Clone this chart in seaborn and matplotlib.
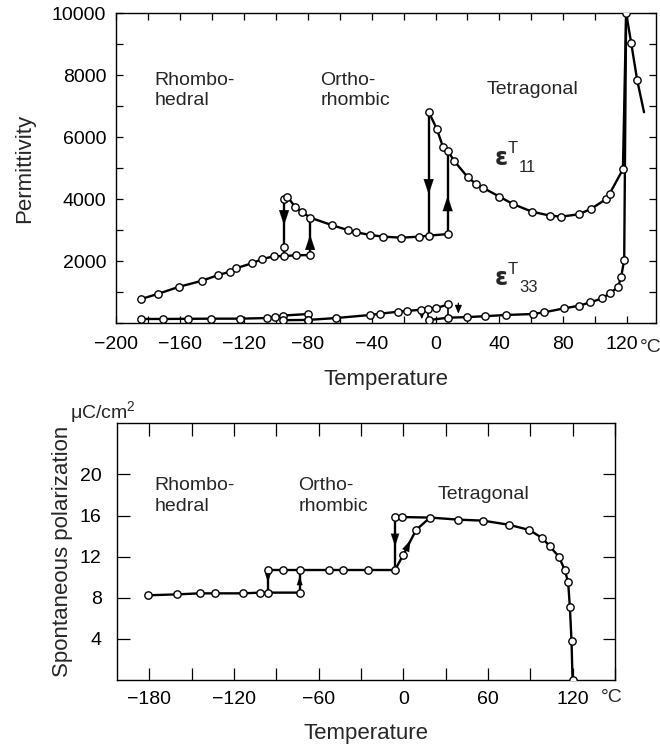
import matplotlib
matplotlib.use("Agg")
import matplotlib.pyplot as plt
from matplotlib.ticker import MultipleLocator
from matplotlib.transforms import ScaledTranslation
import seaborn as sns
import pandas as pd

# ---------------- data: permittivity (top panel) ----------------
e11_rh_T = [-184.3, -174, -160.4, -146, -136, -128.6, -125, -115, -108.4, -101.3, -94.8, -87.5, -78.5]
e11_rh_P = [774, 935, 1170, 1365, 1548, 1655, 1763, 1925, 2064, 2150, 2161, 2183, 2193]
e11_or_T = [-94.8, -92.7, -88, -83.3, -78.5, -64.5, -55, -50, -41, -32.6, -21.5, -10.3, -4.3, 7.6]
e11_or_P = [3990, 4075, 3753, 3570, 3400, 3150, 3000, 2930, 2840, 2785, 2752, 2785, 2816, 2870]
e11_te_T = [-4.3, 0.8, 4.6, 7.6, 11.7, 20.2, 25.4, 29.6, 40, 48.4, 60.3, 71.8, 78.6, 89.5, 97.2,
            106.6, 108.9, 117.3, 119.3]
e11_te_P = [6817, 6258, 5688, 5560, 5226, 4700, 4484, 4365, 4075, 3839, 3592, 3462, 3430, 3506, 3677,
            3990, 4161, 4958, 10000]
e11_cu_T = [119.3, 122.5, 126.2]
e11_cu_P = [10000, 9023, 7839]
e11_tail_T = [126.2, 130.5]
e11_tail_P = [7839, 6800]
e11_extra_T = [-94.8]
e11_extra_P = [2440]
# hysteresis jumps: x, start, end, arrow head position
e11_jump_T = [-94.8, -78.5, -4.3, 7.6]
e11_jump_from = [3990, 2193, 6817, 2870]
e11_jump_to = [2161, 3400, 2816, 5560]
e11_jump_head = [3150, 2850, 4150, 4100]

e33_rh_T = [-184.3, -170.4, -155.1, -140.5, -122.4, -105.6, -100.4, -95.6, -79.6]
e33_rh_P = [130, 130, 135, 140, 140, 160, 200, 240, 290]
e33_rl_T = [-95.6, -79.6]
e33_rl_P = [90, 100]
e33_or_T = [-79.6, -62.2, -41, -34.7, -23.2, -18, -9, -4.4, 0.4, 8]
e33_or_P = [100, 160, 258, 300, 365, 387, 430, 460, 480, 600]
e33_te_T = [-3.9, 8, 20, 31, 44, 61, 68, 80.5, 90, 96.8, 104.5, 108.9, 114.2, 116.2, 118.1]
e33_te_P = [97, 172, 190, 220, 258, 290, 344, 473, 558, 667, 796, 958, 1150, 1494, 2032]
e33_rise_T = [118.1, 119.3]
e33_rise_P = [2032, 10000]
e33_jump_T = [-4.4, 8]
e33_jump_from = [460, 600]
e33_jump_to = [97, 172]
e33_small_arrow_T = [-8.6, 14.3]
e33_small_arrow_from = [430, 640]
e33_small_arrow_to = [120, 300]

# ---------------- data: spontaneous polarization (bottom panel) ----------------
ps_rh_T = [-181.2, -160.4, -144.4, -133.3, -113.7, -101.4, -96, -73.5]
ps_rh_P = [8.24, 8.33, 8.43, 8.43, 8.43, 8.5, 8.5, 8.5]
ps_or_T = [-96, -85, -73.5, -52.4, -42.9, -24.8, -5.9]
ps_or_P = [10.7, 10.7, 10.7, 10.7, 10.7, 10.7, 10.7]
ps_te_T = [-5.9, -0.7, 18.9, 38.9, 56.6, 74.8, 89.1, 98.6, 103.8, 110.2, 114.4, 116.8, 118, 119.2, 119.9]
ps_te_P = [15.85, 15.85, 15.8, 15.6, 15.5, 15.1, 14.6, 13.8, 13.0, 12.0, 10.7, 9.5, 7.1, 3.75, 0]
ps_heat_T = [-5.9, 0, 9, 18.9]
ps_heat_P = [10.7, 12.2, 14.6, 15.8]
ps_jump_T = [-96, -73.5, -5.9]
ps_jump_from = [10.7, 8.5, 15.85]
ps_jump_to = [8.5, 10.7, 10.7]
ps_jump_head = [9.5, 10.1, 13.0]

top_xticks = [-200, -160, -120, -80, -40, 0, 40, 80, 120]
top_yticks = [2000, 4000, 6000, 8000, 10000]
bot_xticks = [-180, -120, -60, 0, 60, 120]
bot_yticks = [4, 8, 12, 16, 20]

# ---------------- style ----------------
sns.set_style("ticks")
plt.rcParams["font.family"] = ["Liberation Sans", "DejaVu Sans"]
plt.rcParams["mathtext.fontset"] = "custom"
plt.rcParams["mathtext.rm"] = "Liberation Sans"

LW = 1.7
MS = 28

fig = plt.figure(figsize=(6.6, 7.49), dpi=100)
ax1 = fig.add_axes([116 / 660, 1 - 323 / 749, 540 / 660, 310 / 749])
ax2 = fig.add_axes([117 / 660, 1 - 680 / 749, 498 / 660, 257 / 749])


def line(ax, xs, ys, lw=LW):
    df = pd.DataFrame({"x": xs, "y": ys})
    sns.lineplot(data=df, x="x", y="y", ax=ax, sort=False, estimator=None,
                 color="black", lw=lw, legend=False)


def pts(ax, xs, ys):
    df = pd.DataFrame({"x": xs, "y": ys})
    sns.scatterplot(data=df, x="x", y="y", ax=ax, marker="o", s=MS,
                    facecolor="white", edgecolor="black", linewidth=1.0,
                    zorder=5, legend=False)


def head(ax, x, y, up, size, ms=12):
    ax.annotate("", xy=(x, y), xytext=(x, y - size if up else y + size),
                arrowprops=dict(arrowstyle="-|>,head_length=0.9,head_width=0.3",
                                color="black", lw=0.1, mutation_scale=ms,
                                shrinkA=0, shrinkB=0), zorder=6)


# ---------- top panel ----------
for xs, ys in [(e11_rh_T, e11_rh_P), (e11_or_T, e11_or_P), (e11_te_T, e11_te_P),
               (e11_cu_T, e11_cu_P), (e11_tail_T, e11_tail_P),
               (e33_rh_T, e33_rh_P), (e33_rl_T, e33_rl_P), (e33_or_T, e33_or_P),
               (e33_te_T, e33_te_P), (e33_rise_T, e33_rise_P)]:
    line(ax1, xs, ys)
for x, a, b in zip(e11_jump_T, e11_jump_from, e11_jump_to):
    line(ax1, [x, x], [a, b])
for x, a, b in zip(e33_jump_T, e33_jump_from, e33_jump_to):
    line(ax1, [x, x], [a, b], lw=1.2)
for x, a, b, h in zip(e11_jump_T, e11_jump_from, e11_jump_to, e11_jump_head):
    head(ax1, x, h, b > a, 300)
for x, a, b in zip(e33_small_arrow_T, e33_small_arrow_from, e33_small_arrow_to):
    ax1.annotate("", xy=(x, b), xytext=(x, a),
                 arrowprops=dict(arrowstyle="-|>,head_length=0.6,head_width=0.25",
                                 color="black", lw=0.9, mutation_scale=8,
                                 shrinkA=0, shrinkB=0))
for xs, ys in [(e11_rh_T, e11_rh_P), (e11_or_T, e11_or_P), (e11_te_T[:-1], e11_te_P[:-1]),
               (e11_cu_T, e11_cu_P), (e11_extra_T, e11_extra_P),
               (e33_rh_T, e33_rh_P), (e33_rl_T, e33_rl_P), (e33_or_T, e33_or_P),
               (e33_te_T, e33_te_P)]:
    pts(ax1, xs, ys)

ax1.set_xlim(-200, 138)
ax1.set_ylim(0, 10000)
ax1.set_xticks(top_xticks)
ax1.set_xticklabels(["\u2212" + str(-t) if t < 0 else str(t) for t in top_xticks])
ax1.set_yticks(top_yticks)
ax1.set_yticklabels([str(t) for t in top_yticks])
ax1.xaxis.set_minor_locator(MultipleLocator(20))
ax1.yaxis.set_minor_locator(MultipleLocator(1000))
ax1.tick_params(which="both", direction="in", top=True, right=True, length=5, width=0.9,
                labelsize=14, colors="black")
ax1.tick_params(axis="x", which="major", pad=9)
ax1.tick_params(axis="y", which="major", pad=7)
ax1.set_xlabel("Temperature", fontsize=16, labelpad=12)
ax1.set_ylabel("Permittivity", fontsize=16, labelpad=12)
# nudge "120" a bit to the left to make room for the unit
lbl = ax1.get_xticklabels()[-1]
lbl.set_transform(lbl.get_transform() + ScaledTranslation(-5 / 100, 0, fig.dpi_scale_trans))
ax1.text(134.5, -800, "\u00b0C", fontsize=14, ha="center", va="center")
ax1.text(-176, 7500, "Rhombo-\nhedral", fontsize=14, ha="left", va="center", linespacing=1.25)
ax1.text(-72, 7500, "Ortho-\nrhombic", fontsize=14, ha="left", va="center", linespacing=1.25)
ax1.text(32, 7520, "Tetragonal", fontsize=14, ha="left", va="center")
ax1.text(36.5, 5300, r"$\mathbf{\varepsilon}$", fontsize=17, ha="left", va="center")
ax1.annotate("T", xy=(36.5, 5300), xytext=(10, 7), textcoords="offset points",
             fontsize=12, ha="left", va="center")
ax1.annotate("11", xy=(36.5, 5300), xytext=(18, -6), textcoords="offset points",
             fontsize=12, ha="left", va="center")
ax1.text(36.5, 1420, r"$\mathbf{\varepsilon}$", fontsize=17, ha="left", va="center")
ax1.annotate("T", xy=(36.5, 1420), xytext=(10, 7), textcoords="offset points",
             fontsize=12, ha="left", va="center")
ax1.annotate("33", xy=(36.5, 1420), xytext=(18, -6), textcoords="offset points",
             fontsize=12, ha="left", va="center")

# ---------- bottom panel ----------
for xs, ys in [(ps_rh_T, ps_rh_P), (ps_or_T, ps_or_P), (ps_te_T, ps_te_P), (ps_heat_T, ps_heat_P)]:
    line(ax2, xs, ys)
for x, a, b in zip(ps_jump_T, ps_jump_from, ps_jump_to):
    line(ax2, [x, x], [a, b])
for x, a, b, h, ms in zip(ps_jump_T, ps_jump_from, ps_jump_to, ps_jump_head, [7, 7, 10]):
    head(ax2, x, h, b > a, 0.5, ms=ms)
ax2.annotate("", xy=(5.0, 13.6), xytext=(3.0, 13.0),
             arrowprops=dict(arrowstyle="-|>,head_length=0.9,head_width=0.3",
                             color="black", lw=0.1, mutation_scale=9,
                             shrinkA=0, shrinkB=0), zorder=6)
for xs, ys in [(ps_rh_T, ps_rh_P), (ps_or_T, ps_or_P), (ps_te_T, ps_te_P), (ps_heat_T[1:3], ps_heat_P[1:3])]:
    pts(ax2, xs, ys)

ax2.set_xlim(-203, 150)
ax2.set_ylim(0, 25)
ax2.set_xticks(bot_xticks)
ax2.set_xticklabels(["\u2212" + str(-t) if t < 0 else str(t) for t in bot_xticks])
ax2.set_yticks(bot_yticks)
ax2.set_yticklabels([str(t) for t in bot_yticks])
ax2.xaxis.set_minor_locator(MultipleLocator(30))
ax2.tick_params(which="both", direction="in", top=True, right=True, length=9, width=0.9,
                labelsize=14, colors="black")
ax2.tick_params(axis="x", which="major", pad=8)
ax2.tick_params(axis="y", which="major", pad=11)
ax2.set_xlabel("Temperature", fontsize=16, labelpad=11)
ax2.set_ylabel("Spontaneous polarization", fontsize=16, labelpad=5)
ax2.text(148, -1.7, "\u00b0C", fontsize=14, ha="center", va="center")
ax2.text(-176.5, 17.9, "Rhombo-\nhedral", fontsize=14, ha="left", va="center", linespacing=1.25)
ax2.text(-74.5, 17.9, "Ortho-\nrhombic", fontsize=14, ha="left", va="center", linespacing=1.25)
ax2.text(24.5, 18.0, "Tetragonal", fontsize=14, ha="left", va="center")
fig.text(70 / 660, 1 - 413 / 749, "\u03bcC/cm$^{2}$", fontsize=14, ha="left", va="center")

for ax in (ax1, ax2):
    for s in ax.spines.values():
        s.set_color("black")
        s.set_linewidth(1.0)

fig.savefig("out.png", dpi=100)
